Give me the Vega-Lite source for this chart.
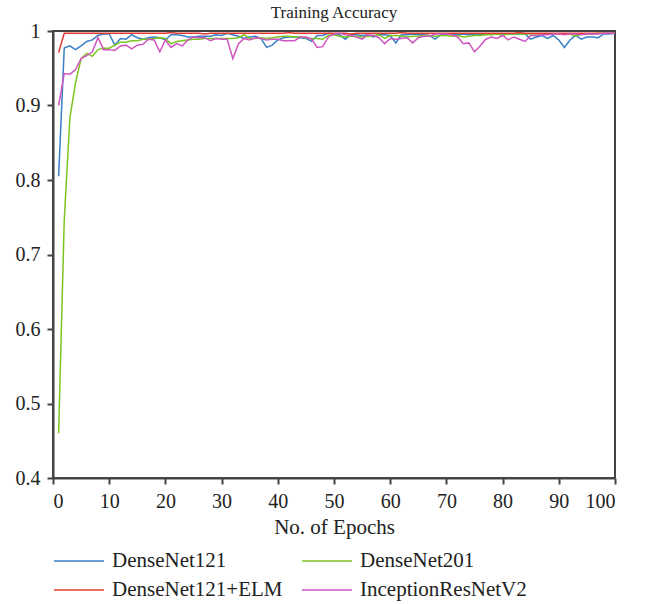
{
 "$schema": "https://vega.github.io/schema/vega-lite/v6.json",
 "width": 562, "height": 447,
 "autosize": {"type": "none"},
 "padding": {"left": 53, "top": 31, "right": 30, "bottom": 126},
 "title": {"text": "Training Accuracy", "fontSize": 17, "font": "Liberation Serif", "fontWeight": "normal", "color": "#222", "offset": -1},
 "data": {"values": [
{"epoch":1,"DenseNet121":0.805,"DenseNet201":0.46,"DenseNet121+ELM":0.971,"InceptionResNetV2":0.900},
{"epoch":2,"DenseNet121":0.977,"DenseNet201":0.746,"DenseNet121+ELM":0.997,"InceptionResNetV2":0.943},
{"epoch":3,"DenseNet121":0.980,"DenseNet201":0.883,"DenseNet121+ELM":0.997,"InceptionResNetV2":0.942},
{"epoch":4,"DenseNet121":0.975,"DenseNet201":0.930,"DenseNet121+ELM":0.997,"InceptionResNetV2":0.948},
{"epoch":5,"DenseNet121":0.980,"DenseNet201":0.963,"DenseNet121+ELM":0.997,"InceptionResNetV2":0.963},
{"epoch":6,"DenseNet121":0.986,"DenseNet201":0.970,"DenseNet121+ELM":0.997,"InceptionResNetV2":0.967},
{"epoch":7,"DenseNet121":0.988,"DenseNet201":0.966,"DenseNet121+ELM":0.997,"InceptionResNetV2":0.972},
{"epoch":8,"DenseNet121":0.994,"DenseNet201":0.975,"DenseNet121+ELM":0.997,"InceptionResNetV2":0.991},
{"epoch":9,"DenseNet121":0.996,"DenseNet201":0.977,"DenseNet121+ELM":0.997,"InceptionResNetV2":0.975},
{"epoch":10,"DenseNet121":0.996,"DenseNet201":0.977,"DenseNet121+ELM":0.997,"InceptionResNetV2":0.975},
{"epoch":11,"DenseNet121":0.981,"DenseNet201":0.981,"DenseNet121+ELM":0.997,"InceptionResNetV2":0.974},
{"epoch":12,"DenseNet121":0.990,"DenseNet201":0.985,"DenseNet121+ELM":0.997,"InceptionResNetV2":0.980},
{"epoch":13,"DenseNet121":0.989,"DenseNet201":0.985,"DenseNet121+ELM":0.997,"InceptionResNetV2":0.981},
{"epoch":14,"DenseNet121":0.995,"DenseNet201":0.987,"DenseNet121+ELM":0.997,"InceptionResNetV2":0.976},
{"epoch":15,"DenseNet121":0.991,"DenseNet201":0.987,"DenseNet121+ELM":0.997,"InceptionResNetV2":0.981},
{"epoch":16,"DenseNet121":0.989,"DenseNet201":0.989,"DenseNet121+ELM":0.997,"InceptionResNetV2":0.982},
{"epoch":17,"DenseNet121":0.991,"DenseNet201":0.989,"DenseNet121+ELM":0.997,"InceptionResNetV2":0.989},
{"epoch":18,"DenseNet121":0.992,"DenseNet201":0.990,"DenseNet121+ELM":0.997,"InceptionResNetV2":0.988},
{"epoch":19,"DenseNet121":0.991,"DenseNet201":0.991,"DenseNet121+ELM":0.997,"InceptionResNetV2":0.972},
{"epoch":20,"DenseNet121":0.988,"DenseNet201":0.990,"DenseNet121+ELM":0.997,"InceptionResNetV2":0.988},
{"epoch":21,"DenseNet121":0.995,"DenseNet201":0.983,"DenseNet121+ELM":0.998,"InceptionResNetV2":0.978},
{"epoch":22,"DenseNet121":0.995,"DenseNet201":0.986,"DenseNet121+ELM":0.997,"InceptionResNetV2":0.983},
{"epoch":23,"DenseNet121":0.994,"DenseNet201":0.987,"DenseNet121+ELM":0.997,"InceptionResNetV2":0.980},
{"epoch":24,"DenseNet121":0.992,"DenseNet201":0.988,"DenseNet121+ELM":0.997,"InceptionResNetV2":0.988},
{"epoch":25,"DenseNet121":0.992,"DenseNet201":0.989,"DenseNet121+ELM":0.997,"InceptionResNetV2":0.992},
{"epoch":26,"DenseNet121":0.993,"DenseNet201":0.989,"DenseNet121+ELM":0.997,"InceptionResNetV2":0.991},
{"epoch":27,"DenseNet121":0.993,"DenseNet201":0.990,"DenseNet121+ELM":0.996,"InceptionResNetV2":0.991},
{"epoch":28,"DenseNet121":0.993,"DenseNet201":0.990,"DenseNet121+ELM":0.997,"InceptionResNetV2":0.987},
{"epoch":29,"DenseNet121":0.995,"DenseNet201":0.990,"DenseNet121+ELM":0.997,"InceptionResNetV2":0.990},
{"epoch":30,"DenseNet121":0.994,"DenseNet201":0.990,"DenseNet121+ELM":0.997,"InceptionResNetV2":0.989},
{"epoch":31,"DenseNet121":0.997,"DenseNet201":0.990,"DenseNet121+ELM":0.997,"InceptionResNetV2":0.989},
{"epoch":32,"DenseNet121":0.995,"DenseNet201":0.990,"DenseNet121+ELM":0.997,"InceptionResNetV2":0.963},
{"epoch":33,"DenseNet121":0.993,"DenseNet201":0.991,"DenseNet121+ELM":0.997,"InceptionResNetV2":0.983},
{"epoch":34,"DenseNet121":0.990,"DenseNet201":0.995,"DenseNet121+ELM":0.997,"InceptionResNetV2":0.990},
{"epoch":35,"DenseNet121":0.992,"DenseNet201":0.990,"DenseNet121+ELM":0.997,"InceptionResNetV2":0.988},
{"epoch":36,"DenseNet121":0.993,"DenseNet201":0.990,"DenseNet121+ELM":0.997,"InceptionResNetV2":0.991},
{"epoch":37,"DenseNet121":0.990,"DenseNet201":0.991,"DenseNet121+ELM":0.997,"InceptionResNetV2":0.990},
{"epoch":38,"DenseNet121":0.978,"DenseNet201":0.990,"DenseNet121+ELM":0.997,"InceptionResNetV2":0.988},
{"epoch":39,"DenseNet121":0.981,"DenseNet201":0.991,"DenseNet121+ELM":0.997,"InceptionResNetV2":0.989},
{"epoch":40,"DenseNet121":0.988,"DenseNet201":0.992,"DenseNet121+ELM":0.997,"InceptionResNetV2":0.989},
{"epoch":41,"DenseNet121":0.991,"DenseNet201":0.993,"DenseNet121+ELM":0.997,"InceptionResNetV2":0.987},
{"epoch":42,"DenseNet121":0.992,"DenseNet201":0.993,"DenseNet121+ELM":0.998,"InceptionResNetV2":0.987},
{"epoch":43,"DenseNet121":0.992,"DenseNet201":0.992,"DenseNet121+ELM":0.997,"InceptionResNetV2":0.987},
{"epoch":44,"DenseNet121":0.991,"DenseNet201":0.992,"DenseNet121+ELM":0.997,"InceptionResNetV2":0.992},
{"epoch":45,"DenseNet121":0.990,"DenseNet201":0.991,"DenseNet121+ELM":0.997,"InceptionResNetV2":0.992},
{"epoch":46,"DenseNet121":0.986,"DenseNet201":0.990,"DenseNet121+ELM":0.997,"InceptionResNetV2":0.989},
{"epoch":47,"DenseNet121":0.994,"DenseNet201":0.990,"DenseNet121+ELM":0.997,"InceptionResNetV2":0.978},
{"epoch":48,"DenseNet121":0.994,"DenseNet201":0.989,"DenseNet121+ELM":0.997,"InceptionResNetV2":0.979},
{"epoch":49,"DenseNet121":0.997,"DenseNet201":0.994,"DenseNet121+ELM":0.997,"InceptionResNetV2":0.992},
{"epoch":50,"DenseNet121":0.996,"DenseNet201":0.995,"DenseNet121+ELM":0.997,"InceptionResNetV2":0.996},
{"epoch":51,"DenseNet121":0.995,"DenseNet201":0.993,"DenseNet121+ELM":0.997,"InceptionResNetV2":0.997},
{"epoch":52,"DenseNet121":0.989,"DenseNet201":0.992,"DenseNet121+ELM":0.997,"InceptionResNetV2":0.995},
{"epoch":53,"DenseNet121":0.995,"DenseNet201":0.993,"DenseNet121+ELM":0.996,"InceptionResNetV2":0.994},
{"epoch":54,"DenseNet121":0.995,"DenseNet201":0.993,"DenseNet121+ELM":0.997,"InceptionResNetV2":0.992},
{"epoch":55,"DenseNet121":0.994,"DenseNet201":0.992,"DenseNet121+ELM":0.997,"InceptionResNetV2":0.989},
{"epoch":56,"DenseNet121":0.995,"DenseNet201":0.993,"DenseNet121+ELM":0.997,"InceptionResNetV2":0.995},
{"epoch":57,"DenseNet121":0.992,"DenseNet201":0.994,"DenseNet121+ELM":0.997,"InceptionResNetV2":0.994},
{"epoch":58,"DenseNet121":0.995,"DenseNet201":0.995,"DenseNet121+ELM":0.997,"InceptionResNetV2":0.991},
{"epoch":59,"DenseNet121":0.995,"DenseNet201":0.990,"DenseNet121+ELM":0.997,"InceptionResNetV2":0.983},
{"epoch":60,"DenseNet121":0.994,"DenseNet201":0.994,"DenseNet121+ELM":0.997,"InceptionResNetV2":0.990},
{"epoch":61,"DenseNet121":0.984,"DenseNet201":0.994,"DenseNet121+ELM":0.997,"InceptionResNetV2":0.989},
{"epoch":62,"DenseNet121":0.995,"DenseNet201":0.993,"DenseNet121+ELM":0.998,"InceptionResNetV2":0.990},
{"epoch":63,"DenseNet121":0.995,"DenseNet201":0.992,"DenseNet121+ELM":0.997,"InceptionResNetV2":0.991},
{"epoch":64,"DenseNet121":0.996,"DenseNet201":0.993,"DenseNet121+ELM":0.997,"InceptionResNetV2":0.984},
{"epoch":65,"DenseNet121":0.995,"DenseNet201":0.993,"DenseNet121+ELM":0.997,"InceptionResNetV2":0.991},
{"epoch":66,"DenseNet121":0.995,"DenseNet201":0.994,"DenseNet121+ELM":0.997,"InceptionResNetV2":0.993},
{"epoch":67,"DenseNet121":0.994,"DenseNet201":0.994,"DenseNet121+ELM":0.997,"InceptionResNetV2":0.993},
{"epoch":68,"DenseNet121":0.989,"DenseNet201":0.993,"DenseNet121+ELM":0.997,"InceptionResNetV2":0.996},
{"epoch":69,"DenseNet121":0.995,"DenseNet201":0.994,"DenseNet121+ELM":0.997,"InceptionResNetV2":0.996},
{"epoch":70,"DenseNet121":0.995,"DenseNet201":0.994,"DenseNet121+ELM":0.997,"InceptionResNetV2":0.996},
{"epoch":71,"DenseNet121":0.996,"DenseNet201":0.993,"DenseNet121+ELM":0.997,"InceptionResNetV2":0.995},
{"epoch":72,"DenseNet121":0.995,"DenseNet201":0.994,"DenseNet121+ELM":0.997,"InceptionResNetV2":0.992},
{"epoch":73,"DenseNet121":0.996,"DenseNet201":0.992,"DenseNet121+ELM":0.997,"InceptionResNetV2":0.983},
{"epoch":74,"DenseNet121":0.995,"DenseNet201":0.993,"DenseNet121+ELM":0.997,"InceptionResNetV2":0.984},
{"epoch":75,"DenseNet121":0.996,"DenseNet201":0.994,"DenseNet121+ELM":0.997,"InceptionResNetV2":0.972},
{"epoch":76,"DenseNet121":0.995,"DenseNet201":0.994,"DenseNet121+ELM":0.997,"InceptionResNetV2":0.980},
{"epoch":77,"DenseNet121":0.996,"DenseNet201":0.995,"DenseNet121+ELM":0.997,"InceptionResNetV2":0.989},
{"epoch":78,"DenseNet121":0.996,"DenseNet201":0.995,"DenseNet121+ELM":0.997,"InceptionResNetV2":0.992},
{"epoch":79,"DenseNet121":0.996,"DenseNet201":0.996,"DenseNet121+ELM":0.997,"InceptionResNetV2":0.990},
{"epoch":80,"DenseNet121":0.996,"DenseNet201":0.994,"DenseNet121+ELM":0.997,"InceptionResNetV2":0.994},
{"epoch":81,"DenseNet121":0.996,"DenseNet201":0.996,"DenseNet121+ELM":0.997,"InceptionResNetV2":0.988},
{"epoch":82,"DenseNet121":0.996,"DenseNet201":0.996,"DenseNet121+ELM":0.997,"InceptionResNetV2":0.992},
{"epoch":83,"DenseNet121":0.996,"DenseNet201":0.996,"DenseNet121+ELM":0.998,"InceptionResNetV2":0.989},
{"epoch":84,"DenseNet121":0.996,"DenseNet201":0.996,"DenseNet121+ELM":0.997,"InceptionResNetV2":0.986},
{"epoch":85,"DenseNet121":0.989,"DenseNet201":0.996,"DenseNet121+ELM":0.997,"InceptionResNetV2":0.994},
{"epoch":86,"DenseNet121":0.992,"DenseNet201":0.996,"DenseNet121+ELM":0.997,"InceptionResNetV2":0.994},
{"epoch":87,"DenseNet121":0.994,"DenseNet201":0.996,"DenseNet121+ELM":0.997,"InceptionResNetV2":0.995},
{"epoch":88,"DenseNet121":0.990,"DenseNet201":0.996,"DenseNet121+ELM":0.997,"InceptionResNetV2":0.995},
{"epoch":89,"DenseNet121":0.994,"DenseNet201":0.996,"DenseNet121+ELM":0.997,"InceptionResNetV2":0.996},
{"epoch":90,"DenseNet121":0.988,"DenseNet201":0.996,"DenseNet121+ELM":0.997,"InceptionResNetV2":0.996},
{"epoch":91,"DenseNet121":0.978,"DenseNet201":0.996,"DenseNet121+ELM":0.997,"InceptionResNetV2":0.995},
{"epoch":92,"DenseNet121":0.988,"DenseNet201":0.996,"DenseNet121+ELM":0.997,"InceptionResNetV2":0.996},
{"epoch":93,"DenseNet121":0.994,"DenseNet201":0.993,"DenseNet121+ELM":0.997,"InceptionResNetV2":0.996},
{"epoch":94,"DenseNet121":0.989,"DenseNet201":0.996,"DenseNet121+ELM":0.997,"InceptionResNetV2":0.995},
{"epoch":95,"DenseNet121":0.992,"DenseNet201":0.996,"DenseNet121+ELM":0.997,"InceptionResNetV2":0.996},
{"epoch":96,"DenseNet121":0.992,"DenseNet201":0.996,"DenseNet121+ELM":0.997,"InceptionResNetV2":0.996},
{"epoch":97,"DenseNet121":0.991,"DenseNet201":0.997,"DenseNet121+ELM":0.997,"InceptionResNetV2":0.996},
{"epoch":98,"DenseNet121":0.996,"DenseNet201":0.997,"DenseNet121+ELM":0.997,"InceptionResNetV2":0.997},
{"epoch":99,"DenseNet121":0.996,"DenseNet201":0.997,"DenseNet121+ELM":0.997,"InceptionResNetV2":0.997},
{"epoch":100,"DenseNet121":0.997,"DenseNet201":0.997,"DenseNet121+ELM":0.997,"InceptionResNetV2":0.997}
 ]},
 "transform": [{"fold": ["DenseNet121", "DenseNet201", "DenseNet121+ELM", "InceptionResNetV2"], "as": ["model", "acc"]}],
 "mark": {"type": "line", "strokeWidth": 1.5, "clip": true},
 "encoding": {
  "x": {"field": "epoch", "type": "quantitative",
        "scale": {"domain": [0, 100], "nice": false},
        "axis": {"values": [0,10,20,30,40,50,60,70,80,90,100], "title": "No. of Epochs", "grid": false, "labelPadding": 7, "titlePadding": 5}},
  "y": {"field": "acc", "type": "quantitative",
        "scale": {"domain": [0.4, 1], "nice": false, "zero": false},
        "axis": {"values": [0.4,0.5,0.6,0.7,0.8,0.9,1], "format": ".1~f", "title": null, "grid": false, "labelPadding": 7}},
  "color": {"field": "model", "type": "nominal",
            "scale": {"domain": ["DenseNet121", "DenseNet201", "DenseNet121+ELM", "InceptionResNetV2"],
                      "range": ["#3a7fc8", "#7cc520", "#e03a30", "#cf55c0"]},
            "legend": {"orient": "none", "legendX": 0, "legendY": 520, "columns": 2, "direction": "horizontal",
                       "title": null, "symbolType": "stroke", "symbolSize": 2500, "symbolStrokeWidth": 1.5,
                       "clipHeight": 20, "labelOffset": 7, "columnPadding": 18, "rowPadding": 8, "padding": 0,
                       "labelFont": "Liberation Serif", "labelFontSize": 21, "labelColor": "#222", "labelLimit": 300}}
 },
 "config": {
  "view": {"stroke": "#444", "strokeWidth": 2},
  "axis": {"domainColor": "#444", "domainWidth": 2, "tickColor": "#444", "tickWidth": 2, "tickSize": 6,
           "labelFont": "Liberation Serif", "labelFontSize": 20, "labelColor": "#222",
           "titleFont": "Liberation Serif", "titleFontSize": 21, "titleFontWeight": "normal", "titleColor": "#222"}
 }
}
